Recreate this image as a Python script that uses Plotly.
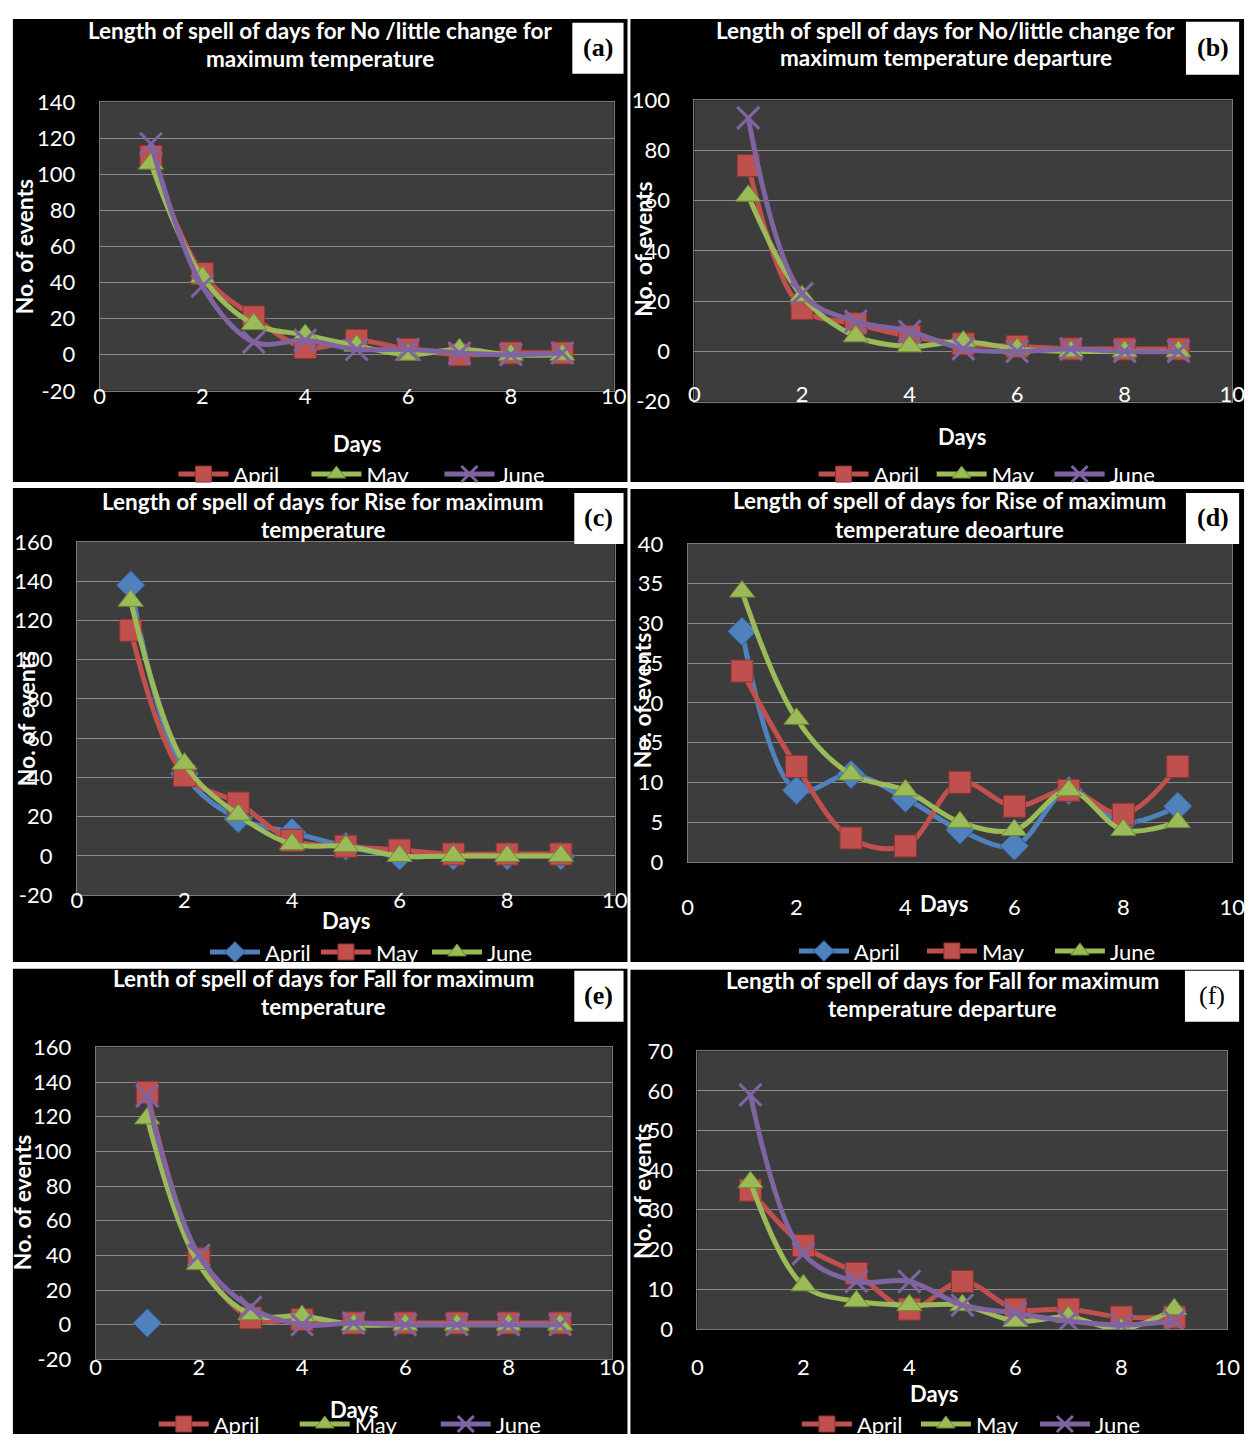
import plotly.graph_objects as go

W, H = 1260, 1447

days = [1, 2, 3, 4, 5, 6, 7, 8, 9]
x_ticks = [0, 2, 4, 6, 8, 10]

# (a) No/little change, maximum temperature
a_april = [110, 45, 21, 4, 8, 3, 0, 1, 1]
a_may = [106, 43, 17, 11, 5, 0, 3, 0, 0]
a_june = [117, 38, 7, 8, 3, 3, 1, 0, 1]
# (b) No/little change, maximum temperature departure
b_april = [74, 17, 11, 6, 3, 2, 1, 1, 1]
b_may = [62, 22, 6, 2, 4, 1, 0, 0, 0]
b_june = [93, 23, 12, 8, 1, 0, 1, 0, 0]
# (c) Rise, maximum temperature
c_april = [138, 42, 19, 12, 5, 0, 0, 0, 0]
c_may = [115, 41, 27, 8, 5, 3, 1, 1, 1]
c_june = [130, 47, 21, 6, 5, 0, 0, 0, 0]
# (d) Rise, maximum temperature departure
d_april = [29, 9, 11, 8, 4, 2, 9, 5, 7]
d_may = [24, 12, 3, 2, 10, 7, 9, 6, 12]
d_june = [34, 18, 11, 9, 5, 4, 9, 4, 5]
# (e) Fall, maximum temperature
e_extra_days = [1]
e_extra = [1]
e_april = [134, 38, 4, 3, 1, 1, 1, 1, 1]
e_may = [119, 35, 6, 5, 0, 0, 0, 0, 0]
e_june = [132, 40, 10, 0, 1, 0, 0, 0, 0]
# (f) Fall, maximum temperature departure
f_april = [35, 21, 14, 5, 12, 5, 5, 3, 3]
f_may = [37, 11, 7, 6, 6, 2, 3, 0, 5]
f_june = [59, 19, 12, 12, 6, 4, 2, 1, 2]

titles = [
    ["Length of spell of days for No /little change for", "maximum temperature"],
    ["Length of spell of days for No/little change for", "maximum temperature departure"],
    ["Length of spell of days for Rise for maximum", "temperature"],
    ["Length of spell of days for Rise of maximum", "temperature deoarture"],
    ["Lenth of spell of days for Fall for maximum", "temperature"],
    ["Length of spell of days for Fall for maximum", "temperature departure"],
]
panel_labels = ["(a)", "(b)", "(c)", "(d)", "(e)", "(f)"]
y_title = "No. of events"
x_title = "Days"

RED, GREEN, PURPLE, BLUE = "#C0504D", "#9BBB59", "#8064A2", "#4F81BD"
STY = {
    "red": dict(color=RED, symbol="square", edge="#8E3431"),
    "green": dict(color=GREEN, symbol="triangle-up", edge="#6B8A32"),
    "purple": dict(color=PURPLE, symbol="x-thin", edge=PURPLE),
    "blue": dict(color=BLUE, symbol="diamond", edge="#2C5A8F"),
}

series = [
    [("April", a_april, "red"), ("May", a_may, "green"), ("June", a_june, "purple")],
    [("April", b_april, "red"), ("May", b_may, "green"), ("June", b_june, "purple")],
    [("April", c_april, "blue"), ("May", c_may, "red"), ("June", c_june, "green")],
    [("April", d_april, "blue"), ("May", d_may, "red"), ("June", d_june, "green")],
    [("April", e_april, "red"), ("May", e_may, "green"), ("June", e_june, "purple")],
    [("April", f_april, "red"), ("May", f_may, "green"), ("June", f_june, "purple")],
]

# layout geometry in pixels
P = [
    dict(box=(7, 5, 631, 477), plot=(95, 90, 617, 384), yr=(-20, 140), dy=20, xs=-14,
         ty=(17, 45), tcx=319, yt=(18, 237), xt=(356, 438), lg=(170, 469), ew=68, lab=(575, 9, 627, 61)),
    dict(box=(634, 5, 1257, 477), plot=(699, 88, 1245, 395), yr=(-20, 100), dy=20, xs=-27,
         ty=(17, 44), tcx=954, yt=(646, 240), xt=(971, 431), lg=(820, 469), ew=53, lab=(1198, 8, 1252, 62)),
    dict(box=(7, 483, 631, 966), plot=(72, 538, 618, 898), yr=(-20, 160), dy=20, xs=-15,
         ty=(497, 525), tcx=322, yt=(20, 718), xt=(345, 924), lg=(202, 956), ew=46, lab=(577, 488, 627, 540)),
    dict(box=(634, 484, 1257, 966), plot=(692, 540, 1245, 864), yr=(0, 40), dy=5, xs=26,
         ty=(496, 525), tcx=958, yt=(646, 700), xt=(952, 906), lg=(800, 955), ew=63, lab=(1198, 488, 1252, 540)),
    dict(box=(7, 973, 631, 1447), plot=(91, 1053, 615, 1371), yr=(-20, 160), dy=20, xs=-12,
         ty=(983, 1011), tcx=322, yt=(17, 1211), xt=(353, 1422), lg=(150, 1437), ew=76, lab=(577, 975, 627, 1027)),
    dict(box=(634, 974, 1257, 1447), plot=(702, 1057, 1240, 1340), yr=(0, 70), dy=10, xs=19,
         ty=(985, 1013), tcx=951, yt=(645, 1200), xt=(942, 1406), lg=(803, 1437), ew=54, lab=(1197, 975, 1252, 1027)),
]


def fx(p):
    return p / W


def fy(p):
    return 1 - p / H


FONT = "Lato"
fig = go.Figure()
shapes, annotations = [], []
layout = {}

for i, (p, ser) in enumerate(zip(P, series)):
    n = i + 1
    xa = "x" if n == 1 else f"x{n}"
    ya = "y" if n == 1 else f"y{n}"
    lgname = "legend" if n == 1 else f"legend{n}"

    if n == 5:
        fig.add_trace(go.Scatter(
            x=e_extra_days, y=e_extra, mode="markers", name="Series1", showlegend=False,
            xaxis=xa, yaxis=ya,
            marker=dict(symbol="diamond", size=22, color=BLUE, line=dict(color="#2C5A8F", width=1)),
        ))

    for name, vals, sk in ser:
        s = STY[sk]
        if s["symbol"] == "x-thin":
            mk = dict(symbol="x-thin", size=22, color=s["color"], line=dict(color=s["color"], width=3))
        else:
            mk = dict(symbol=s["symbol"], size=22, color=s["color"], line=dict(color=s["edge"], width=1))
        fig.add_trace(go.Scatter(
            x=days, y=vals, name=name, mode="lines+markers", xaxis=xa, yaxis=ya,
            legend=lgname,
            line=dict(color=s["color"], width=5, shape="spline", smoothing=1.0),
            marker=mk,
        ))

    x0, y0, x1, y1 = p["plot"]
    yvals = list(range(p["yr"][0], p["yr"][1] + 1, p["dy"]))
    layout["xaxis" if n == 1 else f"xaxis{n}"] = dict(
        domain=[fx(x0), fx(x1)], anchor=ya, range=[0, 10], tickvals=x_ticks,
        showgrid=False, zeroline=False, showline=True, mirror=True, linecolor="#7a7a7a", linewidth=1,
        ticks="", tickfont=dict(family=FONT, size=22, color="white"), ticklabelstandoff=p["xs"],
        fixedrange=True,
    )
    layout["yaxis" if n == 1 else f"yaxis{n}"] = dict(
        domain=[fy(y1), fy(y0)], anchor=xa, range=list(p["yr"]),
        tickvals=yvals, ticktext=[str(v) for v in yvals],
        showgrid=True, gridcolor="#8a8a8a", gridwidth=1, zeroline=False,
        showline=True, mirror=True, linecolor="#7a7a7a", linewidth=1,
        ticks="", tickfont=dict(family=FONT, size=22, color="white"), ticklabelstandoff=19,
        fixedrange=True,
    )
    layout[lgname] = dict(
        orientation="h", x=fx(p["lg"][0]), y=fy(p["lg"][1]), xanchor="left", yanchor="middle",
        xref="paper", yref="paper", bgcolor="rgba(0,0,0,0)",
        font=dict(family=FONT, size=22, color="white"), itemwidth=50,
        entrywidth=p["ew"], entrywidthmode="pixels",
    )

    bx0, by0, bx1, by1 = p["box"]
    shapes.append(dict(type="rect", xref="paper", yref="paper", x0=fx(bx0), x1=fx(bx1),
                       y0=fy(by1), y1=fy(by0), fillcolor="black", line=dict(width=0), layer="below"))
    shapes.append(dict(type="rect", xref=f"{xa} domain", yref=f"{ya} domain", x0=0, x1=1, y0=0, y1=1,
                       fillcolor="#3d3d3d", line=dict(width=0), layer="below"))
    lx0, ly0, lx1, ly1 = p["lab"]
    shapes.append(dict(type="rect", xref="paper", yref="paper", x0=fx(lx0), x1=fx(lx1),
                       y0=fy(ly1), y1=fy(ly0), fillcolor="white", line=dict(width=0), layer="above"))
    lab_txt = panel_labels[i] if panel_labels[i] == "(f)" else f"<b>{panel_labels[i]}</b>"
    annotations.append(dict(text=lab_txt, x=fx((lx0 + lx1) / 2), y=fy((ly0 + ly1) / 2 - 1),
                            xref="paper", yref="paper", showarrow=False, xanchor="center", yanchor="middle",
                            font=dict(family="Liberation Serif", size=26, color="black")))
    for line_txt, ly in zip(titles[i], p["ty"]):
        annotations.append(dict(text=f"<b>{line_txt}</b>", x=fx(p["tcx"]), y=fy(ly), xref="paper", yref="paper",
                                showarrow=False, xanchor="center", yanchor="middle",
                                font=dict(family=FONT, size=22.5, color="white")))
    annotations.append(dict(text=f"<b>{y_title}</b>", x=fx(p["yt"][0]), y=fy(p["yt"][1]), xref="paper",
                            yref="paper", showarrow=False, textangle=-90, xanchor="center", yanchor="middle",
                            font=dict(family=FONT, size=23, color="white")))
    annotations.append(dict(text=f"<b>{x_title}</b>", x=fx(p["xt"][0]), y=fy(p["xt"][1]), xref="paper",
                            yref="paper", showarrow=False, xanchor="center", yanchor="middle",
                            font=dict(family=FONT, size=22, color="white")))

fig.update_layout(
    width=W, height=H, margin=dict(l=0, r=0, t=0, b=0),
    paper_bgcolor="white", plot_bgcolor="rgba(0,0,0,0)",
    shapes=shapes, annotations=annotations, **layout,
)

fig.write_html("out.html")
